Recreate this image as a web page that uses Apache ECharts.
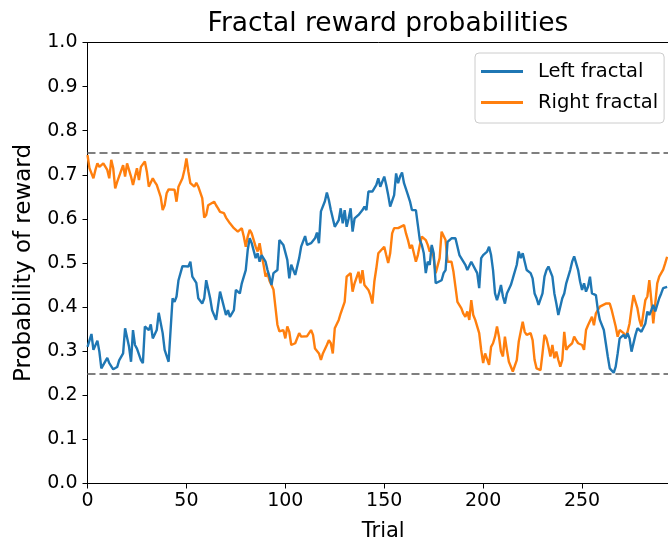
<!DOCTYPE html>
<html>
<head>
<meta charset="utf-8">
<script src="https://cdn.jsdelivr.net/npm/echarts@6/dist/echarts.min.js"></script>
<style>
  html, body { margin: 0; padding: 0; background: #fff; }
  #chart { width: 668px; height: 541px; }
</style>
</head>
<body>
<div id="chart"></div>
<script>
// Reward probability of each fractal over trials (sampled trial, probability)
const leftTrials = [0,2,3,5,6,7,8,10,11,13,15,16,18,19,21,22,23,24,25,27,28,29,31,32,33,35,36,38,39,41,42,43,44,45,46,48,49,51,52,53,55,56,58,59,60,62,63,65,67,68,70,71,72,74,75,77,78,80,81,82,83,85,86,87,88,90,91,92,93,94,96,97,98,99,101,102,103,105,107,108,109,110,111,113,115,116,117,118,120,121,122,123,124,125,126,127,128,129,130,131,132,133,134,135,136,137,139,140,141,142,144,145,146,147,148,150,151,152,153,155,156,157,158,159,160,162,163,164,166,167,168,169,170,171,172,173,174,175,176,177,179,180,181,182,184,185,186,188,189,191,192,194,195,197,198,199,200,202,203,204,205,206,207,208,209,210,211,212,214,215,216,217,218,219,220,221,222,224,225,226,227,228,230,231,232,233,235,236,237,238,240,241,242,244,245,246,248,249,250,251,252,253,254,255,256,257,258,259,261,262,263,264,266,267,268,269,271,272,273,274,275,276,277,278,279,280,282,283,284,285,286,287,289,290,291,293];
const leftProb = [.31,.339,.303,.324,.299,.261,.265,.285,.273,.259,.264,.279,.295,.352,.31,.276,.348,.314,.306,.28,.273,.356,.348,.361,.329,.348,.387,.341,.303,.276,.348,.42,.412,.424,.461,.493,.496,.492,.503,.469,.455,.42,.408,.42,.461,.42,.393,.371,.435,.435,.382,.393,.378,.393,.439,.431,.454,.484,.53,.556,.545,.511,.522,.503,.518,.503,.484,.469,.45,.477,.484,.552,.552,.541,.507,.465,.496,.473,.511,.537,.533,.561,.541,.545,.556,.569,.545,.617,.64,.66,.643,.62,.62,.582,.586,.597,.624,.59,.62,.582,.601,.624,.571,.601,.601,.609,.62,.628,.62,.662,.662,.666,.677,.692,.673,.696,.677,.654,.628,.654,.703,.681,.696,.705,.681,.654,.64,.62,.62,.586,.552,.541,.522,.477,.503,.496,.541,.522,.454,.458,.461,.477,.484,.548,.556,.556,.556,.518,.515,.496,.484,.503,.507,.477,.443,.511,.518,.526,.537,.518,.484,.431,.416,.431,.45,.424,.408,.431,.45,.465,.461,.496,.526,.511,.522,.503,.484,.477,.465,.431,.42,.405,.431,.469,.484,.492,.469,.431,.408,.382,.42,.431,.454,.484,.503,.515,.484,.458,.439,.454,.435,.446,.469,.431,.427,.427,.393,.371,.348,.318,.288,.261,.251,.265,.295,.329,.337,.329,.341,.329,.299,.295,.337,.352,.352,.344,.363,.39,.382,.393,.405,.39,.42,.431,.443,.446];

const rightTrials = [0,1,3,4,5,6,8,9,10,11,12,13,14,15,16,18,19,20,22,23,24,25,26,27,29,30,31,32,33,34,35,37,38,39,40,41,42,44,45,46,47,48,49,50,51,52,53,54,55,56,58,59,60,61,62,64,65,66,67,69,70,71,72,74,75,76,77,78,79,80,81,82,83,85,86,87,88,89,90,91,92,93,94,95,96,97,98,99,100,101,102,103,104,105,107,108,109,111,112,113,114,115,116,117,118,119,120,121,122,123,124,125,127,128,130,131,132,133,134,135,136,137,138,139,140,142,143,144,145,146,147,148,150,151,152,153,154,155,157,158,160,161,162,163,164,166,167,168,169,170,171,172,173,174,175,176,178,179,180,181,182,183,184,185,186,187,188,189,190,191,192,193,194,195,196,198,199,200,201,202,203,204,205,206,207,208,209,210,211,212,213,214,215,216,217,218,219,220,221,222,224,225,226,227,228,229,230,231,232,233,234,235,236,237,238,239,240,241,242,243,244,245,246,247,248,249,250,251,252,253,254,255,256,257,258,259,260,262,263,264,265,267,268,269,270,271,272,273,274,275,276,277,278,279,280,282,283,284,285,286,287,288,289,290,291,292,293];
const rightProb = [.745,.715,.692,.711,.726,.718,.726,.722,.711,.692,.734,.715,.669,.684,.682,.722,.696,.726,.696,.677,.696,.715,.688,.718,.73,.707,.673,.677,.692,.684,.677,.65,.62,.631,.658,.667,.671,.666,.639,.673,.669,.692,.711,.737,.707,.681,.684,.673,.682,.673,.647,.603,.609,.631,.635,.639,.631,.624,.616,.613,.603,.603,.59,.579,.575,.571,.575,.579,.56,.537,.56,.575,.567,.537,.526,.545,.518,.496,.469,.477,.46,.45,.44,.40,.36,.345,.341,.348,.329,.356,.344,.314,.31,.318,.341,.333,.337,.334,.337,.348,.337,.306,.303,.295,.28,.295,.299,.314,.325,.318,.295,.352,.371,.386,.412,.469,.473,.477,.435,.454,.458,.48,.454,.484,.45,.439,.427,.408,.458,.488,.522,.518,.537,.518,.5,.522,.567,.579,.579,.575,.586,.567,.552,.533,.541,.503,.518,.541,.56,.56,.552,.541,.526,.537,.511,.477,.511,.571,.575,.552,.503,.5,.503,.48,.446,.412,.408,.397,.385,.378,.39,.371,.416,.382,.371,.341,.303,.273,.295,.291,.269,.31,.318,.333,.356,.333,.299,.288,.333,.303,.276,.28,.254,.257,.28,.322,.325,.367,.344,.337,.341,.325,.28,.261,.261,.257,.295,.337,.329,.31,.288,.314,.284,.299,.28,.265,.28,.344,.303,.31,.306,.318,.333,.325,.318,.322,.314,.303,.348,.359,.356,.378,.359,.386,.39,.401,.405,.408,.405,.408,.393,.356,.333,.348,.352,.341,.333,.344,.363,.397,.427,.424,.397,.371,.356,.416,.424,.461,.416,.363,.408,.454,.469,.473,.485,.499,.514];

// Reference levels drawn as dashed guides
const guideLevels = [0.75, 0.25];
const xTicks = { min: 0, max: 299, step: 50 };
const yTicks = { min: 0, max: 1, step: 0.1 };

const FONT = 'DejaVu Sans';
const pairs = (xs, ys) => xs.map((x, i) => [x, ys[i]]);

const chart = echarts.init(document.getElementById('chart'), null, { renderer: 'canvas' });
chart.setOption({
  animation: false,
  backgroundColor: '#ffffff',
  title: {
    text: 'Fractal reward probabilities',
    left: 383, top: 6, textAlign: 'center',
    textStyle: { fontFamily: FONT, fontSize: 26.5, fontWeight: 'normal', color: '#000' }
  },
  legend: {
    orient: 'vertical',
    left: 475, top: 53,
    padding: [8, 6, 10, 6],
    itemGap: 10,
    itemWidth: 42, itemHeight: 3,
    icon: 'rect',
    backgroundColor: 'rgba(255,255,255,0.8)',
    borderColor: '#cccccc', borderWidth: 1, borderRadius: 4,
    textStyle: { fontFamily: FONT, fontSize: 19.5, color: '#000', lineHeight: 21, padding: [0, 0, 0, 10] },
    data: ['Left fractal', 'Right fractal']
  },
  grid: {
    left: 87.5, right: -11, top: 42.5, bottom: 57.5,
    outerBoundsMode: 'none', containLabel: false,
    show: true, borderColor: '#000', borderWidth: 1, backgroundColor: 'transparent'
  },
  xAxis: {
    type: 'value', min: xTicks.min, max: xTicks.max, interval: xTicks.step,
    name: 'Trial', nameLocation: 'middle', nameGap: 38,
    nameTextStyle: { fontFamily: FONT, fontSize: 21, color: '#000' },
    axisLine: { show: true, onZero: false, lineStyle: { color: '#000', width: 1 } },
    axisTick: { show: true, length: 5, lineStyle: { color: '#000' } },
    axisLabel: { fontFamily: FONT, fontSize: 19, color: '#000', margin: 8, showMaxLabel: false },
    splitLine: { show: false }
  },
  yAxis: {
    type: 'value', min: yTicks.min, max: yTicks.max, interval: yTicks.step,
    name: 'Probability of reward', nameLocation: 'middle', nameGap: 52, nameRotate: 90,
    nameTextStyle: { fontFamily: FONT, fontSize: 23, color: '#000' },
    axisLine: { show: true, lineStyle: { color: '#000', width: 1 } },
    axisTick: { show: true, length: 5, lineStyle: { color: '#000' } },
    axisLabel: { fontFamily: FONT, fontSize: 19, color: '#000', margin: 10,
      formatter: v => v.toFixed(1) },
    splitLine: { show: false }
  },
  series: [
    {
      name: 'Left fractal', type: 'line', symbol: 'none',
      data: pairs(leftTrials, leftProb),
      lineStyle: { color: '#1f77b4', width: 2.4 },
      itemStyle: { color: '#1f77b4' },
      z: 3,
      markLine: {
        silent: true, symbol: 'none', label: { show: false },
        lineStyle: { color: '#7f7f7f', type: [8, 4], width: 2 },
        data: guideLevels.map(v => ({ yAxis: v }))
      }
    },
    {
      name: 'Right fractal', type: 'line', symbol: 'none',
      data: pairs(rightTrials, rightProb),
      lineStyle: { color: '#ff7f0e', width: 2.4 },
      itemStyle: { color: '#ff7f0e' },
      z: 2
    }
  ]
});
</script>
</body>
</html>
